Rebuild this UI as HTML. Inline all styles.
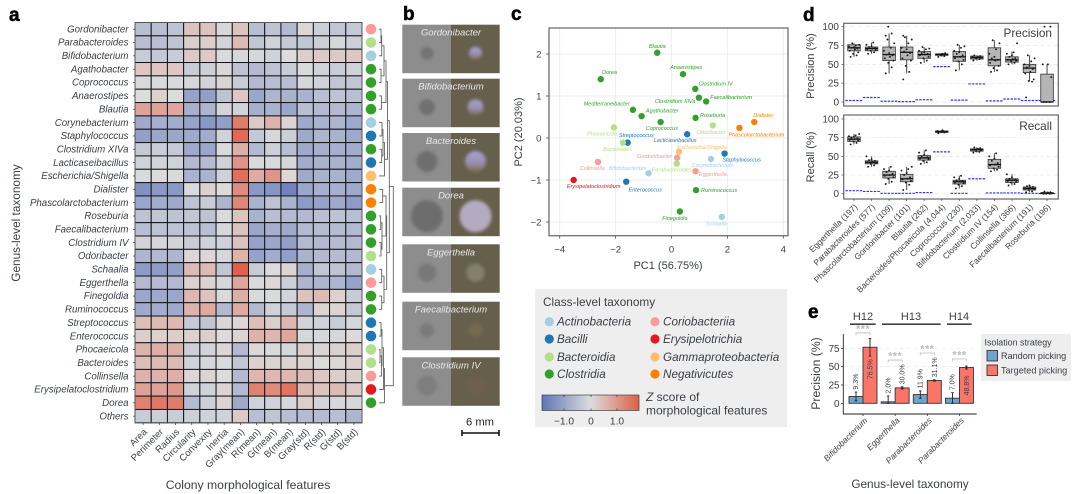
<!DOCTYPE html>
<html><head><meta charset="utf-8"><title>Colony morphology figure</title>
<style>
html,body{margin:0;padding:0;background:#fff}
svg{display:block;font-family:"Liberation Sans",sans-serif}
text{fill:#3a3f45}
.lt{font-weight:700;font-size:19px;fill:#000;stroke:#000;stroke-width:.5}
</style></head>
<body>
<svg id="fig" xmlns="http://www.w3.org/2000/svg" width="1080" height="494" viewBox="0 0 1080 494">
<defs>
<filter id="bl" x="-30%" y="-30%" width="160%" height="160%"><feGaussianBlur stdDeviation="1.6"/></filter>
<linearGradient id="cb" x1="0" x2="1" y1="0" y2="0"><stop offset="0" stop-color="#5f75b5"/><stop offset=".5" stop-color="#dcdcdc"/><stop offset="1" stop-color="#de5f48"/></linearGradient>
<linearGradient id="colony" x1="0" x2="0" y1="0" y2="1"><stop offset="0" stop-color="#a8a2d0"/><stop offset=".55" stop-color="#9a90b4"/><stop offset="1" stop-color="#7d6a4e"/></linearGradient>
</defs>
<rect width="1080" height="494" fill="#fff"/>
<text class="lt" x="9" y="21">a</text>
<text class="lt" x="403" y="20">b</text>
<text class="lt" x="511" y="20">c</text>
<text class="lt" x="803" y="21">d</text>
<text class="lt" x="808" y="318">e</text>

<text transform="translate(20,223) rotate(-90)" text-anchor="middle" font-size="11.8">Genus-level taxonomy</text>
<text x="248" y="489" text-anchor="middle" font-size="12.2">Colony morphological features</text>
<g id="heat"></g>
<g id="dend"></g>
<g id="colonies"></g>
<text x="480" y="425.5" text-anchor="middle" font-size="11.2" style="fill:#222">6 mm</text>
<path d="M462 433H499M462 430V436M499 430V436" stroke="#111" stroke-width="1.6" fill="none"/>

<g id="pca"></g>
<text x="668" y="269" text-anchor="middle" font-size="11">PC1 (56.75%)</text>
<text transform="translate(522,132) rotate(-90)" text-anchor="middle" font-size="11">PC2 (20.03%)</text>

<g>
<rect x="535" y="289" width="252" height="138" fill="#eeeeee"/>
<text x="543" y="306" font-size="11.8">Class-level taxonomy</text>
<g id="classLegend"></g>
<rect x="542" y="395" width="97" height="15.5" fill="url(#cb)" stroke="#444" stroke-width=".7"/>
<path d="M564 395v2M564 410.5v-2M591 395v2M591 410.5v-2M617 395v2M617 410.5v-2" stroke="#333" stroke-width=".7"/>
<text x="564" y="424.5" text-anchor="middle" font-size="10.2">−1.0</text>
<text x="591" y="424.5" text-anchor="middle" font-size="10.2">0</text>
<text x="617" y="424.5" text-anchor="middle" font-size="10.2">1.0</text>
<text x="646" y="401" font-size="12"><tspan font-style="italic">Z</tspan> score of</text>
<text x="646" y="414.5" font-size="12">morphological features</text>
</g>

<g id="boxes"></g>
<text transform="translate(814,66) rotate(-90)" text-anchor="middle" font-size="11">Precision (%)</text>
<text transform="translate(814,157) rotate(-90)" text-anchor="middle" font-size="11">Recall (%)</text>
<text x="1052" y="37" text-anchor="end" font-size="11.8">Precision</text>
<text x="1052" y="130" text-anchor="end" font-size="11.8">Recall</text>

<g id="bars"></g>
<text transform="translate(820,373.5) rotate(-90)" text-anchor="middle" font-size="12.2">Precision (%)</text>
<text x="910" y="488" text-anchor="middle" font-size="11.8">Genus-level taxonomy</text>
<g>
<text x="863" y="320" text-anchor="middle" font-size="11">H12</text>
<text x="911" y="320" text-anchor="middle" font-size="11">H13</text>
<text x="959" y="320" text-anchor="middle" font-size="11">H14</text>
<path d="M850 324.2H875.7M882 324.2H940.7M947 324.2H971.7" stroke="#222" stroke-width="1.3"/>
</g>
<g>
<rect x="981" y="334" width="90" height="47" fill="#eeeeee"/>
<text x="984.5" y="345.5" font-size="8.9">Isolation strategy</text>
<rect x="987" y="350.5" width="10.5" height="10.5" fill="#6fa3cc" stroke="#333" stroke-width=".9"/>
<text x="1001" y="359" font-size="9.1">Random picking</text>
<rect x="987" y="365" width="10.5" height="10.5" fill="#fb7468" stroke="#333" stroke-width=".9"/>
<text x="1001" y="373.5" font-size="9.1">Targeted picking</text>
</g>
</svg>
<script>
/* ---------- Panel a data ---------- */
const genera=["Gordonibacter","Parabacteroides","Bifidobacterium","Agathobacter","Coprococcus","Anaerostipes","Blautia","Corynebacterium","Staphylococcus","Clostridium XIVa","Lacticaseibacillus","Escherichia/Shigella","Dialister","Phascolarctobacterium","Roseburia","Faecalibacterium","Clostridium IV","Odoribacter","Schaalia","Eggerthella","Finegoldia","Ruminococcus","Streptococcus","Enterococcus","Phocaeicola","Bacteroides","Collinsella","Erysipelatoclostridium","Dorea","Others"];
const features=["Area","Perimeter","Radius","Circularity","Convexity","Inertia","Gray(mean)","R(mean)","G(mean)","B(mean)","Gray(std)","R(std)","G(std)","B(std)"];
const zScores=[
[-.5,-.5,-.45,.4,.4,-.1,.4,-.5,-.45,-.6,.1,-.25,-.4,-.35],
[-.5,-.5,-.45,.25,.25,-.15,.5,-.4,-.2,-.35,-.4,-.25,-.1,-.25],
[-.3,-.35,-.3,.3,.3,-.05,-.1,-.1,-.2,0,.25,.3,.3,.35],
[.35,.35,.35,-.3,-.25,.1,-.45,-.6,-.45,-.3,-.05,-.2,-.3,-.2],
[-.05,-.05,-.05,-.1,-.15,.15,-.3,-.6,-.5,-.5,-.1,-.2,-.4,-.4],
[0,.2,0,-.95,-1,-.45,.35,-.9,-.65,-.7,-.7,-.5,-.45,-.5],
[.8,.8,.75,-.75,-.65,-.15,-.2,-.75,-.7,-.9,-.5,-.6,-.6,-.65],
[-.85,-.75,-.8,-.95,-1.1,-1,1.2,.3,.6,.15,-.85,-.7,-.65,-.85],
[-1,-.9,-.9,-.85,-.8,-.2,1.4,-.35,-.1,-.25,-.85,-.65,-.7,-.85],
[-.35,-.3,-.35,-.85,-.9,-.05,.65,-.6,-.25,-.5,-.85,-.75,-.75,-.8],
[-.2,-.15,-.2,-.6,-.55,-.2,.95,-.05,-.05,-.1,-.8,-.7,-.7,-.8],
[-.05,.05,-.05,-.7,-.7,-.2,1.35,.7,.95,.1,-.85,-.7,-.7,-.85],
[-1.2,-1.1,-1.1,-.05,.2,.05,1.05,-1.1,-1.15,-1.4,-.9,-.75,-.75,-.85],
[-.9,-.8,-.85,-.45,-.3,-.65,1.1,-.7,-.45,-.7,-1.05,-.95,-.85,-1.05],
[-.45,-.4,-.45,-.4,-.45,-.05,.4,-.7,-.5,-.55,-.6,-.5,-.45,-.5],
[-.5,-.45,-.45,-.45,-.5,-.1,.4,-.9,-.75,-.85,-.6,-.55,-.55,-.6],
[-.15,-.1,-.15,-.3,-.2,-.2,.4,-.95,-.9,-1,-.6,-.6,-.55,-.6],
[-.65,-.6,-.65,.1,.1,-.1,.6,-.95,-.8,-1,-.7,-.6,-.55,-.6],
[-1.05,-1.05,-1,.5,.5,-.4,1.5,-.3,.05,.15,-.75,-.4,-.45,-.6],
[-.6,-.55,-.6,.2,.15,-.1,.75,-.05,.1,-.25,-.65,-.65,-.65,-.95],
[-.9,-.85,-.9,.55,.4,-.05,.65,-.05,-.05,-.15,.4,.5,.2,-.3],
[-.85,-.8,-.85,.6,.7,-.6,.7,-.6,-.2,-.35,-.65,.15,.15,-.35],
[.45,.5,.55,-.35,-.4,.1,.1,.45,.25,.55,-.15,-.2,-.3,-.1],
[.25,.2,.25,.2,.25,.05,.15,.6,.55,.75,-.1,-.1,-.1,.05],
[.6,.65,.65,-.25,-.15,.1,-.6,.1,-.05,-.1,.25,.15,.2,.25],
[.45,.5,.5,-.2,-.1,-.05,-.4,.2,.15,.15,.15,.05,.1,.2],
[.6,.6,.65,.1,.15,0,-.6,.55,.55,.55,.5,.35,.25,.25],
[.8,.8,.9,-.2,-.2,.15,-.6,1.15,1.05,1.3,.5,.4,.5,.3],
[1.15,1.25,1.2,-.55,-.25,.15,-.85,-.2,-.2,-.1,.25,-.15,-.1,-.1],
[-.3,-.25,-.3,-.25,-.2,-.2,.3,-.5,-.4,-.5,-.55,-.55,-.5,-.65]];
const classNames=["Actinobacteria","Bacilli","Bacteroidia","Clostridia","Coriobacteriia","Erysipelotrichia","Gammaproteobacteria","Negativicutes"];
const classColors=["#a6cee3","#1f78b4","#b2df8a","#33a02c","#fb9a99","#e31a1c","#fdbf6f","#ff7f00"];
const rowClass=[4,2,0,3,3,3,3,0,1,3,1,6,7,7,3,3,3,2,0,4,3,3,1,1,2,2,4,5,3];
const t1=[5,[2.7,[2,0,1],2],[2,3,4]];
const t1b=[7,t1,[2.5,5,6]];
const t2=[5.5,[4,[3,7,8],[2.7,9,10]],11];
const t3=[7,[3.7,12,13],[3,[1.7,14,15],[2,16,17]]];
const t4=[5,[2.7,18,19],[2.7,20,21]];
const bottomTree=[5.5,[4.5,[3,[2,22,23],[2.5,[1,24,25],26]],27],28];
const dendrogramTree=[14.3,[10.3,[8.5,t1b,t2],[7.7,t3,t4]],bottomTree];

/* ---------- Panel c data ---------- */
const pcaNames=["Blautia","Anaerostipes","Dorea","Clostridium IV","Clostridium XlVa","Faecalibacterium","Mediterraneibacter","Agathobacter","Coprococcus","Roseburia","Odoribacter","Dialister","Phascolarctobacterium","Phocaeicola","Streptococcus","Bacteroides","Lacticaseibacillus","Escherichia/Shigella","Staphylococcus","Gordonibacter","Corynebacterium","Parabacteroides","Collinsella","Bifidobacterium","Eggerthella","Erysipelatoclostridium","Enterococcus","Ruminococcus","Finegoldia","Schaalia"];
const pc1=[-.51,.41,-2.53,.85,.98,1.24,-1.38,-1.07,-.39,.86,1.48,2.96,2.43,-2.06,-1.57,-1.74,.56,.27,1.9,.2,1.41,.19,-2.63,-.82,.86,-3.5,-1.62,.88,.3,1.8];
const pc2=[2.03,1.52,1.4,1.17,.96,.87,.67,.52,.38,.48,.3,.38,.24,.25,-.11,-.11,.09,-.33,-.37,-.47,-.5,-.61,-.57,-.84,-.79,-1,-1.04,-1.24,-1.75,-1.88];
const pcaClass=[3,3,3,3,3,3,3,3,3,3,2,7,7,2,1,2,1,6,1,4,0,2,4,0,4,5,1,3,3,0];
const pcaTicksX=[-4,-2,0,2,4];
const pcaTicksY=[-2,-1,0,1,2];
const labelNudgeX=[0,3.3,8.7,20.3,-23.7,25,-26.3,20.7,1.3,17,-1.7,9,17,-12,8.7,-5.3,-12,23,17,-22.7,1.7,-5,-5.7,-21,17.3,20,19,23,-5,-5.3];
const labelNudgeY=[-6.3,-7,-7,-5,3.3,-4.3,-6.3,-5.3,6.3,-2.7,7,-7,7,6.3,-7.3,6.7,6,-4.7,6.3,-1.3,6,6.3,6.3,-5,3,6.3,8,0,6.7,6.7];

/* ---------- Panel d data ---------- */
const boxCats=["Eggerthella (197)","Parabacteroides (577)","Phascolarctobacterium (109)","Gordonibacter (101)","Blautia (262)","Bacteroides/Phocaeicola (4,044)","Coprococcus (230)","Bifidobacterium (2,033)","Clostridium IV (154)","Collinsella (366)","Faecalibacterium (191)","Roseburia (196)"];
const boxTicks=[0,25,50,75,100];
const precQ1=[68,68,55,56,58,62,54,57,48,53,39,0];
const precMed=[72,71,63,66,63,63,60,59,56,56,45,0];
const precQ3=[76,73,73,73,67,64,67,61,72,60,50,37];
const precLo=[60,64,38,38,52,60,42,55,40,50,27,0];
const precHi=[78,79,91,88,73,65,76,62,82,67,62,50];
const precBase=[2,6,1,.5,3,47,2.5,24,1.5,4,2,2];
const precPoints=[
[60,62,64,66,68,70,71,72,73,74,75,76,78],[64,66,68,69,70,71,72,73,74,76,79],
[38,46,52,55,58,60,62,63,65,68,72,78,83,88,91,100],[30,40,48,55,58,62,65,67,70,72,78,83,86,88],
[52,55,58,60,62,63,64,65,66,68,70,71,73],[60,61,62,63,63,64,65],
[42,50,54,56,58,60,62,64,66,68,72,74,76],[55,57,58,59,60,60,61,62],
[40,42,45,48,52,55,56,58,60,64,70,78,82],[50,52,54,55,56,57,58,60,62,64,66,78],
[6,27,28,30,38,40,44,46,48,50,54,58,62],[0,0,0,33,50,50,100,100]];
const recQ1=[70,40,21,16,45,82,13,57,34,15,5,0];
const recMed=[73,42,25,20,48,83,16,59,39,18,7,.5];
const recQ3=[76,44,30,26,51,84,18,60,46,20,9,1.5];
const recLo=[66,36,13,5,40,81,7,55,30,11,2,0];
const recHi=[80,50,36,36,58,85,24,62,54,26,11,3];
const recBase=[4,3,.5,.5,1.5,56,.5,20,1,1,.5,.2];
const recPoints=[
[66,68,70,71,72,73,74,75,76,77,78,80],[36,38,40,41,42,43,44,45,46,50],
[13,16,20,22,24,25,27,29,31,33,36],[5,12,15,17,19,20,22,25,28,31,33,36],
[40,42,44,46,47,48,49,50,52,55,58],[81,82,83,83,84,85],
[7,10,12,14,15,16,17,18,20,22,24],[55,56,57,58,59,60,61,62],
[30,32,34,36,38,39,41,44,47,50,54],[11,13,15,16,17,18,19,20,22,26],
[2,3,5,6,7,8,9,10,11],[0,0,0,.5,1,1.5,2,3]];
const jitterSteps=[-4,3,-1,5,-5,1,4,-3,0,-6,2,6,-2];

/* ---------- Panel e data ---------- */
const barCats=["Bifidobacterium","Eggerthella","Parabacteroides","Parabacteroides"];
const barTicks=[0,25,50,75];
const randomValues=[9.3,2,11.9,7];
const targetedValues=[76.5,21,31.1,48.8];
const randomErr=[6,8,5,7.5];
const targetedErr=[12,1.5,1,2];
const randomLabels=["9.3%","2.0%","11.9%","7.0%"];
const targetedLabels=["76.5%","30.0%","31.1%","48.8%"];
const bracketLevels=[96,59,68.6,60.4];

/* ---------- Helpers ---------- */
const NS="http://www.w3.org/2000/svg";
function mk(parent,tag,attrs,content){
  const el=document.createElementNS(NS,tag);
  for(const k in attrs) el.setAttribute(k,attrs[k]);
  if(content!==undefined) el.textContent=content;
  parent.appendChild(el);
  return el;
}
function hex(c){return [parseInt(c.slice(1,3),16),parseInt(c.slice(3,5),16),parseInt(c.slice(5,7),16)];}
function lerpColor(a,b,t){const A=hex(a),B=hex(b);return "rgb("+A.map((v,i)=>Math.round(v+(B[i]-v)*t)).join(",")+")";}
function heatColor(z){return z<0?lerpColor("#dcdcdc","#6c80bd",Math.pow(Math.min(1,-z/1.45),1.1)):lerpColor("#dcdcdc","#e0604a",Math.pow(Math.min(1,z/1.5),1.2));}
const slug=s=>s.toLowerCase().replace(/[^a-z0-9]+/g,'-');

/* ---------- Panel a ---------- */
(function(){
  const g=document.getElementById('heat');
  const x0=135,y0=22.5,cw=227/features.length,ch=400.3/genera.length;
  const hx=c=>x0+c*cw, hy=r=>y0+r*ch;
  zScores.forEach((row,r)=>{
    row.forEach((z,c)=>{
      const el=mk(g,'rect',{x:hx(c),y:hy(r),width:cw,height:ch,fill:heatColor(z),stroke:'#15151a','stroke-width':1});
      
      
    });
  });
  const frame=mk(g,'rect',{x:x0,y:y0,width:227,height:400.3,fill:'none',stroke:'#555','stroke-width':1});
  
  
  genera.forEach((n,r)=>{
    const y=hy(r)+ch/2;
    const t=mk(g,'text',{x:128.5,y:y+3.2,'text-anchor':'end','font-size':9.7,'font-style':'italic'},n);
    
    
    const tk=mk(g,'line',{x1:133,x2:135,y1:y,y2:y,stroke:'#333','stroke-width':.7});
    
    
    if(r<rowClass.length){
      const d=mk(g,'circle',{cx:371,cy:y,r:5.3,fill:classColors[rowClass[r]]});
      
      
    }
  });
  features.forEach((n,c)=>{
    const x=hx(c)+cw/2;
    const t=mk(g,'text',{transform:'translate('+(x+4.5)+',432.5) rotate(-45)','text-anchor':'end','font-size':9.5},n);
    
    
    const tk=mk(g,'line',{x1:x,x2:x,y1:422.8,y2:425,stroke:'#333','stroke-width':.7});
    
    
  });
  /* dendrogram */
  const dg=document.getElementById('dend');
  const dx=h=>379+h;
  function draw(node){
    if(typeof node==='number') return {x:dx(0),y:hy(node)+ch/2};
    const a=draw(node[1]),b=draw(node[2]),X=dx(node[0]);
    const p=mk(dg,'path',{d:'M'+a.x+' '+a.y+'H'+X+'V'+b.y+'H'+b.x,fill:'none',stroke:'#5c5c5c','stroke-width':.85});
    
    
    return {x:X,y:(a.y+b.y)/2};
  }
  draw(dendrogramTree);
})();

/* ---------- Panel b ---------- */
(function(){
  const names=["Gordonibacter","Bifidobacterium","Bacteroides","Dorea","Eggerthella","Faecalibacterium","Clostridium IV"];
  const top=[24.7,78.7,133,187.7,244.3,301.7,357.3];
  const sizes=[6.5,8,10.5,16,9.2,7.2,10];
  const grays=["#737373","#707070","#6e6e6e","#6d6d6d","#787878","#7a7a7a","#7e7e7e"];
  const tones=["#9d8fb0","#a69fc9","#a8a4d8","#b5abc0","#84806a","#75694f","#6e5f50"];
  const g=document.getElementById('colonies');
  names.forEach((n,i)=>{
    const y=top[i],h=48.5,cy=y+28.5;
    const l=mk(g,'rect',{x:402.3,y:y,width:48.7,height:h,fill:'#8d8d8d'});
    
    
    const r=mk(g,'rect',{x:451,y:y,width:48.7,height:h,fill:'#655f4c'});
    
    
    const a=mk(g,'circle',{cx:427,cy:cy,r:sizes[i],fill:grays[i],filter:'url(#bl)'});
    
    
    const b=mk(g,'circle',{cx:475.5,cy:cy,r:sizes[i],fill:i<3?'url(#colony)':tones[i],filter:'url(#bl)'});
    
    
    const t=mk(g,'text',{x:451,y:y+11,'text-anchor':'middle','font-size':9.5,'font-style':'italic',style:'fill:#e8e8e8'},n);
    
    
  });
})();

/* ---------- Panel c ---------- */
(function(){
  const g=document.getElementById('pca');
  const sx=v=>671.5+v*27.95, sy=v=>138-v*42;
  pcaTicksX.forEach(v=>{
    const l=mk(g,'line',{x1:sx(v),x2:sx(v),y1:28,y2:235.7,stroke:'#ececec','stroke-width':.9});
    
    
    const tk=mk(g,'line',{x1:sx(v),x2:sx(v),y1:235.7,y2:238.5,stroke:'#444','stroke-width':.8});
    
    
    const t=mk(g,'text',{x:sx(v),y:252.5,'text-anchor':'middle','font-size':9.6},String(v).replace('-','−'));
    
    
  });
  pcaTicksY.forEach(v=>{
    const l=mk(g,'line',{x1:549,x2:788,y1:sy(v),y2:sy(v),stroke:'#ececec','stroke-width':.9});
    
    
    const tk=mk(g,'line',{x1:546,x2:549,y1:sy(v),y2:sy(v),stroke:'#444','stroke-width':.8});
    
    
    const t=mk(g,'text',{x:541.5,y:sy(v)+3.4,'text-anchor':'end','font-size':9.6},String(v).replace('-','−'));
    
    
  });
  const fr=mk(g,'rect',{x:549,y:28,width:239,height:207.7,fill:'none',stroke:'#6e6e6e','stroke-width':1.3});
  
  
  pcaNames.forEach((n,i)=>{
    const col=classColors[pcaClass[i]];
    const p=mk(g,'circle',{cx:sx(pc1[i]),cy:sy(pc2[i]),r:3.2,fill:col});
    
    
    const t=mk(g,'text',{x:sx(pc1[i])+labelNudgeX[i],y:sy(pc2[i])+labelNudgeY[i]+1.8,'text-anchor':'middle','font-size':5.5,'font-style':'italic',style:'fill:'+col},n);
    
    
  });
  /* legend */
  const lg=document.getElementById('classLegend');
  const rows=[321.7,339,357,374];
  classNames.forEach((n,i)=>{
    const col=i<4?0:1, y=rows[i%4];
    const d=mk(lg,'circle',{cx:col?655:549.3,cy:y,r:4.6,fill:classColors[i]});
    
    
    const t=mk(lg,'text',{x:col?663:557,y:y+4,'font-size':11.7,'font-style':'italic'},n);
    
    
  });
})();

/* ---------- Panel d ---------- */
(function(){
  const g=document.getElementById('boxes');
  const cx=i=>854+i*17.55, hw=6.3;
  function panel(name,top,bottom,y100,y0,q1,med,q3,lo,hi,base,pts){
    const sy=v=>y0-v*(y0-y100)/100;
    boxTicks.forEach(v=>{
      const gl=mk(g,'line',{x1:844,x2:1058,y1:sy(v),y2:sy(v),stroke:'#e6e6e6','stroke-width':.7,'stroke-dasharray':'4 3'});
      
      
      const tk=mk(g,'line',{x1:841.5,x2:843.7,y1:sy(v),y2:sy(v),stroke:'#444','stroke-width':.7});
      
      
      const t=mk(g,'text',{x:839,y:sy(v)+3.4,'text-anchor':'end','font-size':10},v);
      
      
    });
    boxCats.forEach((n,i)=>{
      const x=cx(i);
      const b=mk(g,'line',{x1:x-8.6,x2:x+8.6,y1:sy(base[i]),y2:sy(base[i]),stroke:'#3232ee','stroke-width':1.2,'stroke-dasharray':'2.4 1.2'});
      
      
      const w=mk(g,'line',{x1:x,x2:x,y1:sy(hi[i]),y2:sy(lo[i]),stroke:'#555','stroke-width':1.1});
      
      
      const r=mk(g,'rect',{x:x-hw,y:sy(q3[i]),width:2*hw,height:Math.max(.5,sy(q1[i])-sy(q3[i])),fill:'#b5b5b5',stroke:'#333','stroke-width':.8});
      
      
      const m=mk(g,'line',{x1:x-hw,x2:x+hw,y1:sy(med[i]),y2:sy(med[i]),stroke:'#111','stroke-width':1.3});
      
      
      pts[i].forEach((v,k)=>{
        const p=mk(g,'circle',{cx:x+jitterSteps[k%jitterSteps.length]*.85,cy:sy(v),r:.95,fill:'#1a1a1a'});
        
        
      });
    });
    const fr=mk(g,'rect',{x:843.7,y:top,width:214.6,height:bottom-top,fill:'none',stroke:'#666','stroke-width':1.2});
    
    
  }
  panel('precision',23.3,106,26.7,102,precQ1,precMed,precQ3,precLo,precHi,precBase,precPoints);
  panel('recall',115,199,119,193.7,recQ1,recMed,recQ3,recLo,recHi,recBase,recPoints);
  boxCats.forEach((n,i)=>{
    const x=cx(i);
    const tk=mk(g,'line',{x1:x,x2:x,y1:199,y2:201,stroke:'#444','stroke-width':.7});
    
    
    const t=mk(g,'text',{transform:'translate('+(x+4)+',207.5) rotate(-45)','text-anchor':'end','font-size':8.4},n);
    
    
  });
})();

/* ---------- Panel e ---------- */
(function(){
  const g=document.getElementById('bars');
  const sy=v=>403.3-v*.733, gx=i=>863+i*32.15;
  barTicks.forEach(v=>{
    const gl=mk(g,'line',{x1:844,x2:976,y1:sy(v),y2:sy(v),stroke:'#e8e8e8','stroke-width':.7,'stroke-dasharray':'4 3'});
    
    
    const tk=mk(g,'line',{x1:841,x2:843.3,y1:sy(v),y2:sy(v),stroke:'#333','stroke-width':.8});
    
    
    const t=mk(g,'text',{x:839.5,y:sy(v)+3.5,'text-anchor':'end','font-size':9.8},v);
    
    
  });
  function errbar(x,v,e,name){
    const p=mk(g,'path',{d:'M'+(x-1.3)+' '+sy(v+e)+'H'+(x+1.3)+'M'+x+' '+sy(v+e)+'V'+sy(Math.max(0,v-e))+'M'+(x-1.3)+' '+sy(Math.max(0,v-e))+'H'+(x+1.3),stroke:'#222','stroke-width':.9,fill:'none'});
    
    
  }
  barCats.forEach((n,i)=>{
    const c=gx(i);
    const r=mk(g,'rect',{x:c-14,y:sy(randomValues[i]),width:14,height:sy(0)-sy(randomValues[i]),fill:'#6fa3cc',stroke:'#333','stroke-width':.9});
    
    
    const b=mk(g,'rect',{x:c,y:sy(targetedValues[i]),width:14,height:sy(0)-sy(targetedValues[i]),fill:'#fb7468',stroke:'#333','stroke-width':.9});
    
    
    errbar(c-7,randomValues[i],randomErr[i],'error-bar-random');
    errbar(c+7,targetedValues[i],targetedErr[i],'error-bar-targeted');
    const lr=mk(g,'text',{transform:'translate('+(c-4.8)+','+(sy(randomValues[i]+randomErr[i])-2.5)+') rotate(-90)','font-size':7},randomLabels[i]);
    
    
    const inside=targetedValues[i]>40;
    const ly=inside?(sy(targetedValues[i]*.5)+(targetedValues[i]>60?-6:0)):(sy(targetedValues[i]+targetedErr[i])-2.5);
    const lt=mk(g,'text',{transform:'translate('+(c+9.5)+','+ly+') rotate(-90)','text-anchor':inside?'middle':'start','font-size':7},targetedLabels[i]);
    
    
    const by=sy(bracketLevels[i]);
    const br=mk(g,'path',{d:'M'+(c-7)+' '+(by+2.5)+'V'+by+'H'+(c+7)+'V'+(by+2.5),stroke:'#bdbdbd','stroke-width':.8,fill:'none'});
    
    
    const st=mk(g,'text',{x:c,y:by-.5,'text-anchor':'middle','font-size':11,'font-weight':'700',style:'fill:#bdbdbd;letter-spacing:.4px'},'***');
    
    
    const tk=mk(g,'line',{x1:c,x2:c,y1:414,y2:416,stroke:'#333','stroke-width':.8});
    
    
    const t=mk(g,'text',{transform:'translate('+(c+5)+',421) rotate(-45)','text-anchor':'end','font-size':8.4,'font-style':'italic'},n);
    
    
  });
  const ax=mk(g,'path',{d:'M843.3 334V414H976.7',fill:'none',stroke:'#222','stroke-width':.9});
  
  
})();
</script>
</body></html>
